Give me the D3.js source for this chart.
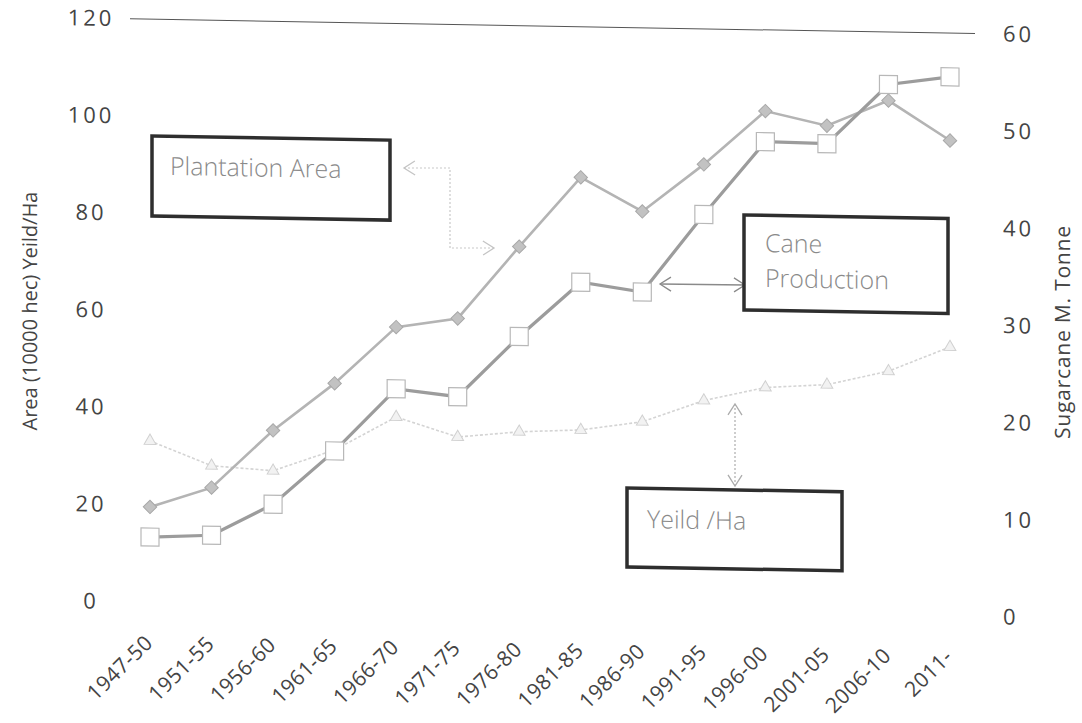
<!DOCTYPE html>
<html><head><meta charset="utf-8">
<script src="https://cdn.jsdelivr.net/npm/d3@7"></script>
<style>body{margin:0;background:#fff} svg{display:block}</style>
</head><body>
<svg id="c" width="1082" height="723"></svg>
<script>
const categories = ["1947-50","1951-55","1956-60","1961-65","1966-70","1971-75","1976-80","1981-85","1986-90","1991-95","1996-00","2001-05","2006-10","2011-"];
const plantationArea = [19.6,23.8,35.8,45.7,57.5,59.5,74.5,89,82.2,92.1,103.3,100.5,105.9,97.9];
const caneProduction = [6.7,7.0,10.3,15.9,22.4,21.7,28,33.7,32.8,40.9,48.5,48.4,54.6,55.5];
const yieldPerHa = [33.2,28.3,27.5,32.0,39,35.1,36.4,37,38.9,43.5,46.4,47.2,50.2,55.4];
const leftTicks = [0,20,40,60,80,100,120];
const rightTicks = [0,10,20,30,40,50,60];
const leftTitle = "Area (10000 hec) Yeild/Ha";
const rightTitle = "Sugarcane M. Tonne";

const W = 1082, H = 723, cx = 541, ang = 1.0;
const k = Math.tan(ang * Math.PI / 180);
// the scanned page is slightly sheared: convert a position seen on the page into the unsheared frame
function unsk(px, py) { return [px, py - k * (px - cx)]; }

const FONT = "'Open Sans', 'DejaVu Sans', sans-serif";
const svg = d3.select("#c");
svg.append("rect").attr("width", W).attr("height", H).attr("fill", "#fff");
const g = svg.append("g").attr("transform", `translate(0,${-k * cx}) skewY(${ang})`);

const x = d3.scalePoint().domain(categories).range([150, 950]);
const yL = d3.scaleLinear().domain([0, 120]).range([609, 26]);
const yR = d3.scaleLinear().domain([0, 60]).range([609, 26]);

// top gridline
g.append("line").attr("x1", 130).attr("x2", 975).attr("y1", yL(120)).attr("y2", yL(120))
  .attr("stroke", "#555").attr("stroke-width", 1);

// left axis
const axL = g.append("g").attr("transform", "translate(90,0)")
  .call(d3.axisLeft(yL).tickValues(leftTicks).tickSize(0).tickPadding(0));
axL.select(".domain").remove();
axL.selectAll("text").attr("x", 1).attr("text-anchor", "middle")
  .style("font-family", FONT).style("font-size", "22px").style("letter-spacing", "3px").attr("fill", "#444");

// right axis
const axR = g.append("g").attr("transform", "translate(1003,0)")
  .call(d3.axisRight(yR).tickValues(rightTicks).tickSize(0).tickPadding(0));
axR.select(".domain").remove();
axR.selectAll("text").attr("x", 0).attr("text-anchor", "start")
  .style("font-family", FONT).style("font-size", "22px").style("letter-spacing", "3px").attr("fill", "#444");

// x axis
const axB = g.append("g").call(d3.axisBottom(x).tickSize(0));
axB.select(".domain").remove();
axB.selectAll(".tick").attr("transform", null);
axB.selectAll("text")
  .attr("y", 0).attr("dy", 0).attr("x", 0)
  .attr("text-anchor", "end")
  .attr("transform", d => `translate(${x(d) + 4},651) rotate(-45)`)
  .style("font-family", FONT).style("font-size", "21px").style("letter-spacing", "0.5px").attr("fill", "#444");

// axis titles
let p = unsk(30, 311);
g.append("text").attr("transform", `translate(${p[0]},${p[1]}) rotate(-90)`)
  .attr("text-anchor", "middle").attr("dy", "0.35em").text(leftTitle)
  .style("font-family", FONT).style("font-size", "20px").attr("fill", "#444");
p = unsk(1063, 332);
g.append("text").attr("transform", `translate(${p[0]},${p[1]}) rotate(-90)`)
  .attr("text-anchor", "middle").attr("dy", "0.35em").text(rightTitle)
  .style("font-family", FONT).style("font-size", "21px").style("letter-spacing", "0.8px").attr("fill", "#444");

// lines
const lineL = d3.line().x((d, i) => x(categories[i])).y(d => yL(d));
const lineR = d3.line().x((d, i) => x(categories[i])).y(d => yR(d));

g.append("path").datum(yieldPerHa).attr("d", lineL).attr("fill", "none")
  .attr("stroke", "#d4d4d4").attr("stroke-width", 1.6).attr("stroke-dasharray", "3,2");
g.append("path").datum(plantationArea).attr("d", lineL).attr("fill", "none")
  .attr("stroke", "#b4b4b4").attr("stroke-width", 2.6);
g.append("path").datum(caneProduction).attr("d", lineR).attr("fill", "none")
  .attr("stroke", "#9c9c9c").attr("stroke-width", 3.2);

// markers
g.selectAll(".tri").data(yieldPerHa).join("path").attr("class", "tri")
  .attr("d", d3.symbol(d3.symbolTriangle, 60))
  .attr("transform", (d, i) => `translate(${x(categories[i])},${yL(d)})`)
  .attr("fill", "#f2f2f2").attr("stroke", "#d0d0d0").attr("stroke-width", 1);
g.selectAll(".dia").data(plantationArea).join("path").attr("class", "dia")
  .attr("d", d3.symbol(d3.symbolSquare, 90))
  .attr("transform", (d, i) => `translate(${x(categories[i])},${yL(d)}) rotate(45)`)
  .attr("fill", "#c2c2c2").attr("stroke", "#a8a8a8").attr("stroke-width", 1);
g.selectAll(".sq").data(caneProduction).join("path").attr("class", "sq")
  .attr("d", d3.symbol(d3.symbolSquare, 324))
  .attr("transform", (d, i) => `translate(${x(categories[i])},${yR(d)})`)
  .attr("fill", "#fff").attr("stroke", "#b8b8b8").attr("stroke-width", 1.2);

// arrow markers
const defs = svg.append("defs");
function mk(id, col) {
  defs.append("marker").attr("id", id).attr("viewBox", "-12 -8 14 16").attr("refX", 0).attr("refY", 0)
    .attr("markerWidth", 14).attr("markerHeight", 16).attr("markerUnits", "userSpaceOnUse")
    .attr("orient", "auto-start-reverse")
    .append("path").attr("d", "M-11,-7 L0,0 L-11,7").attr("fill", "none").attr("stroke", col).attr("stroke-width", 1.3);
}
mk("aLight", "#c4c4c4"); mk("aMid", "#8a8a8a"); mk("aYield", "#acacac");

function pathFrom(pts) { return d3.line()(pts.map(q => unsk(q[0], q[1]))); }
g.append("path").attr("d", pathFrom([[404,168],[450,168],[450,248],[494,248]]))
  .attr("fill", "none").attr("stroke", "#c8c8c8").attr("stroke-width", 1.2).attr("stroke-dasharray", "2,2")
  .attr("marker-start", "url(#aLight)").attr("marker-end", "url(#aLight)");
g.append("path").attr("d", pathFrom([[660,284],[745,285]]))
  .attr("fill", "none").attr("stroke", "#8a8a8a").attr("stroke-width", 1.3)
  .attr("marker-start", "url(#aMid)").attr("marker-end", "url(#aMid)");
g.append("path").attr("d", pathFrom([[735,404],[735,486]]))
  .attr("fill", "none").attr("stroke", "#acacac").attr("stroke-width", 1.2).attr("stroke-dasharray", "2,2")
  .attr("marker-start", "url(#aYield)").attr("marker-end", "url(#aYield)");

// annotation boxes
const boxes = [
  { x: 152, y: 136, w: 238, h: 80, lines: ["Plantation Area"], tx: 170, ty: 175 },
  { x: 744, y: 215, w: 204, h: 95, lines: ["Cane", "Production"], tx: 765, ty: 252 },
  { x: 627, y: 488, w: 215, h: 79, lines: ["Yeild /Ha"], tx: 647, ty: 528 }
];
boxes.forEach(b => {
  const tl = unsk(b.x, b.y);
  g.append("rect").attr("x", tl[0]).attr("y", tl[1]).attr("width", b.w).attr("height", b.h)
    .attr("fill", "#fff").attr("stroke", "#2e2e2e").attr("stroke-width", 3.5);
  const tp = unsk(b.tx, b.ty);
  const t = g.append("text").attr("x", tp[0]).attr("y", tp[1])
    .style("font-family", FONT).style("font-size", "25px").style("font-weight", 300).attr("fill", "#8a8a8a");
  b.lines.forEach((ln, i) => t.append("tspan").attr("x", tp[0]).attr("dy", i === 0 ? 0 : 35).text(ln));
});
</script>
</body></html>
